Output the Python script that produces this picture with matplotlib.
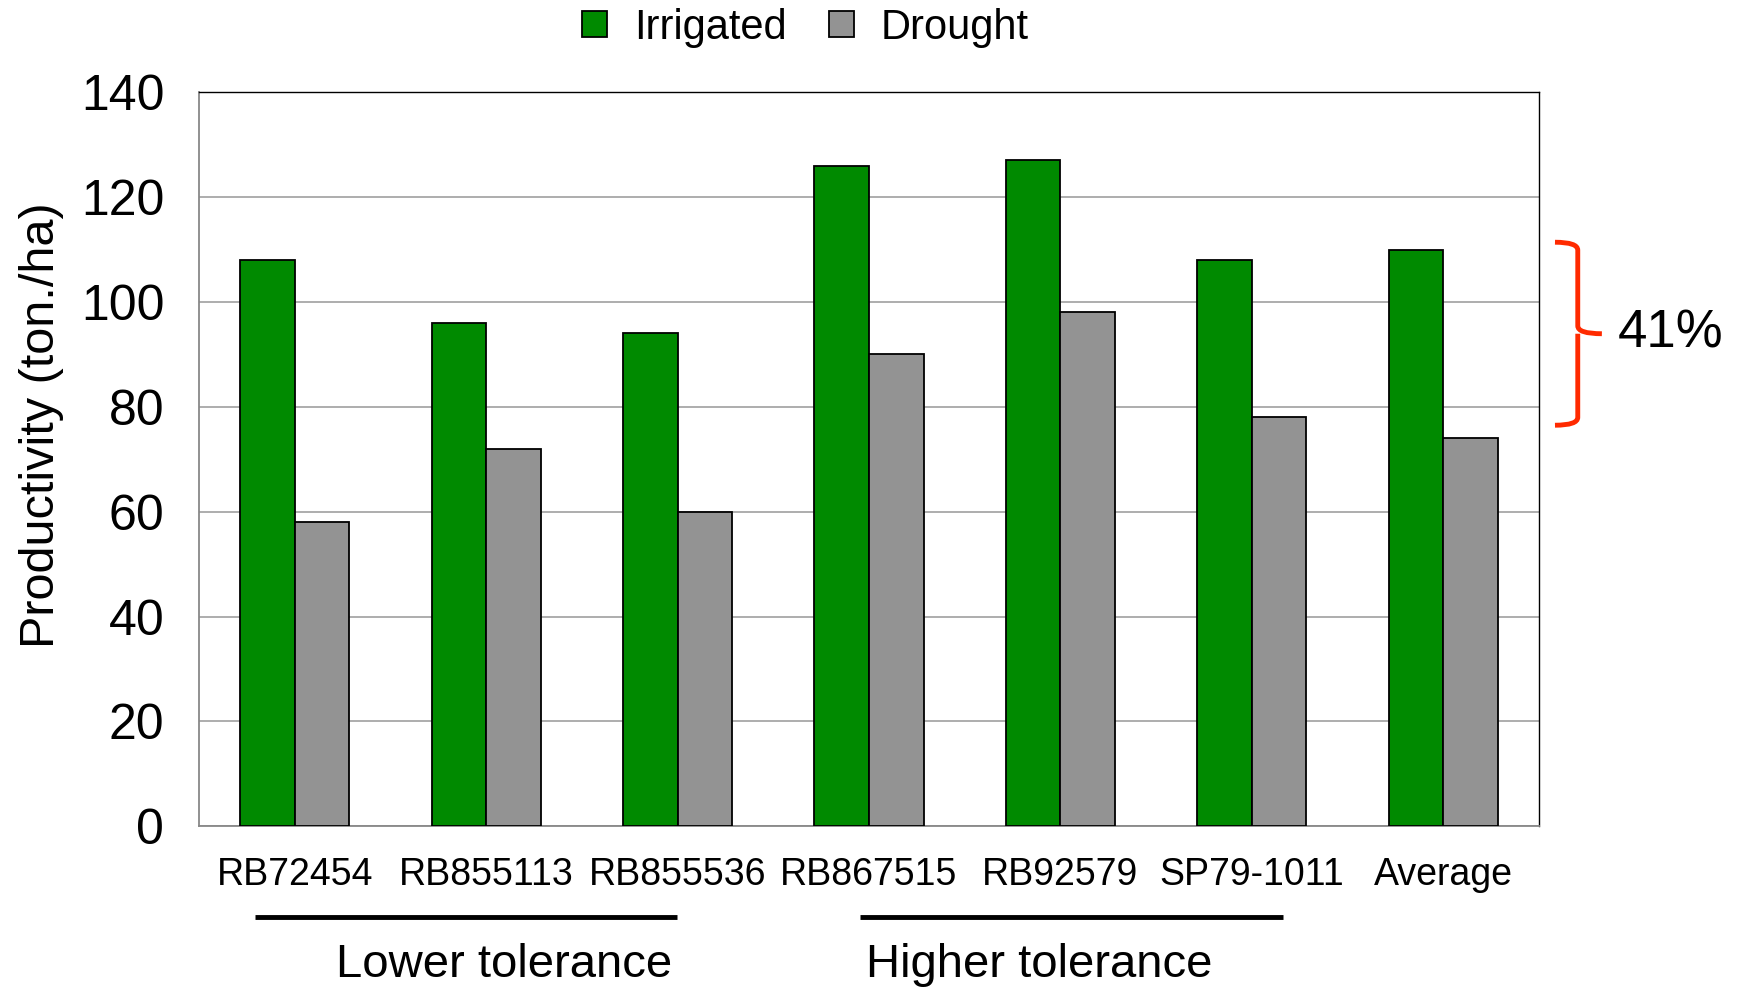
import matplotlib.pyplot as plt
import numpy as np
from matplotlib.patches import Patch, PathPatch
from matplotlib.path import Path
import matplotlib.transforms as mtransforms

plt.rcParams['font.family'] = ['Liberation Sans', 'DejaVu Sans']

varieties = ["RB72454", "RB855113", "RB855536", "RB867515",
             "RB92579", "SP79-1011", "Average"]
irrigated = [108, 96, 94, 126, 127, 108, 110]
drought = [58, 72, 60, 90, 98, 78, 74]
groups = ["Lower tolerance", "Higher tolerance"]
gap_label = "41%"

GREEN = "#008a00"
GRAY = "#939393"
RED = "#ff2a00"

fig = plt.figure(figsize=(17.44, 9.90), dpi=100)
ax = fig.add_axes([0.1141, 0.1653, 0.7683, 0.7415])

x = np.arange(len(varieties))
w = 0.285
ax.bar(x - w / 2, irrigated, w, color=GREEN, edgecolor="black", lw=1.3, zorder=3)
ax.bar(x + w / 2, drought, w, color=GRAY, edgecolor="black", lw=1.3, zorder=3)

ax.set_xlim(-0.5, len(varieties) - 0.5)
ax.set_ylim(0, 140)
ax.set_yticks(range(0, 141, 20))
ax.yaxis.grid(True, color="#a0a0a0", lw=1.2, zorder=0)
ax.set_xticks(x)
ax.set_xticklabels(varieties, fontsize=27)
ax.tick_params(axis="x", length=0, pad=22)
ax.tick_params(axis="y", length=0, pad=25, labelsize=36)
ax.set_ylabel("Productivity (ton./ha)", fontsize=35)
ax.yaxis.set_label_coords(-0.101, 0.547)

for s in ["left", "bottom"]:
    ax.spines[s].set_color("#888888")
    ax.spines[s].set_linewidth(1.3)
for s in ["top", "right"]:
    ax.spines[s].set_color("black")
    ax.spines[s].set_linewidth(1.0)

# legend
handles = [Patch(facecolor=GREEN, edgecolor="black", lw=1.3),
           Patch(facecolor=GRAY, edgecolor="black", lw=1.3)]
fig.legend(handles, ["Irrigated", "Drought"], loc="center",
           bbox_to_anchor=(0.462, 0.972), ncol=2, frameon=False,
           fontsize=30, handlelength=0.6, handleheight=0.6,
           handletextpad=0.65, columnspacing=1.0)

# group underlines and labels (axes fraction for x)
ftr = mtransforms.blended_transform_factory(ax.transAxes, fig.transFigure)
for (x0, x1), lab, xc in zip([(0.042, 0.357), (0.493, 0.809)], groups,
                             [0.228, 0.627]):
    ax.plot([x0, x1], [0.0737, 0.0737], color="black", lw=3.5,
            transform=ftr, clip_on=False, solid_capstyle="butt")
    ax.text(xc, 0.025, lab, transform=ftr, ha="center", va="center",
            fontsize=34)

# red curly bracket between averages
btr = mtransforms.blended_transform_factory(ax.transAxes, ax.transData)
top, bot = 111.4, 76.5
mid = (top + bot) / 2
xa, xb, xc = 1.012, 1.029, 1.047
verts = [(xa, top), (xb, top), (xb, top - 1.5),
         (xb, mid + 1.5), (xb, mid), (xc, mid),
         (xb, mid), (xb, mid - 1.5),
         (xb, bot + 1.5), (xb, bot), (xa, bot)]
codes = [Path.MOVETO, Path.CURVE3, Path.CURVE3,
         Path.LINETO, Path.CURVE3, Path.CURVE3,
         Path.MOVETO, Path.LINETO,
         Path.LINETO, Path.CURVE3, Path.CURVE3]
ax.add_patch(PathPatch(Path(verts, codes), transform=btr, fill=False,
                       edgecolor=RED, lw=3.5, clip_on=False))
ax.text(1.059, mid, gap_label, transform=btr, ha="left", va="center",
        fontsize=38)

fig.savefig("out.png", dpi=100)
